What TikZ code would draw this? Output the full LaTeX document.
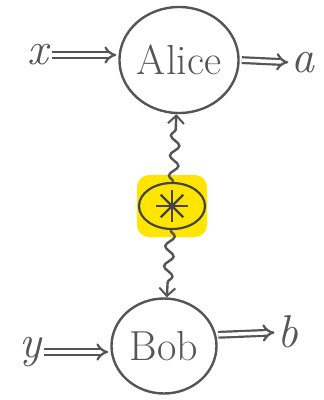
\documentclass[tikz,border=0pt]{standalone}
\usepackage{fontspec}
\usepackage{tikz}
\usetikzlibrary{arrows.meta,shapes.geometric,decorations.pathmorphing}
\definecolor{ink}{HTML}{555555}
\definecolor{hilite}{HTML}{FFE500}

\begin{document}
\begin{tikzpicture}[x=1pt,y=-1pt,
  pl/.style={ellipse,draw=ink,line width=2.4pt,inner sep=0pt,
    font=\fontsize{42}{46}\selectfont,text=ink},
  var/.style={inner sep=1pt,font=\fontsize{46}{50}\selectfont\itshape,text=ink},
  dbl/.style={-{Implies},draw=ink,line width=2.2pt,double,double distance=3.5pt,
    shorten <=2pt,shorten >=2pt},
  wv/.style={-{Straight Barb[length=8pt,width=16pt,line width=2pt]},draw=ink,line width=2.4pt,
    decorate,decoration={snake,amplitude=4.5pt,segment length=20pt,post length=8pt}}]
\useasboundingbox[fill=white] (0,0) rectangle (324,400);
\node[pl,minimum width=118pt,minimum height=106pt] (alice) at (179,60) {Alice};
\node[pl,minimum width=105pt,minimum height=95pt] (bob) at (164,346) {Bob};
\node[rounded corners=12pt,fill=hilite,minimum width=70pt,minimum height=62pt] (hl) at (172,206) {};
\node[ellipse,draw=ink!80!black,line width=2.2pt,minimum width=66pt,minimum height=46pt] (src) at (hl) {};
\foreach \ang in {0,45,90,135}
  \draw[ink!80!black,line width=2.2pt] (src.center) ++(\ang:16pt) -- ++(\ang+180:32pt);
\node[var] (x) at (38,55) {x};
\node[var] (a) at (303,63) {a};
\node[var] (y) at (30,352) {y};
\node[var] (b) at (288,332) {b};
\draw[dbl] (x) -- (x -| alice.west);
\draw[dbl] (alice.east) -- (a);
\draw[dbl] (y) -- (y -| bob.west);
\draw[dbl] (bob.12) -- (b);
\draw[wv] (src) -- (alice);
\draw[wv] (src) -- (bob);
\end{tikzpicture}
\end{document}
